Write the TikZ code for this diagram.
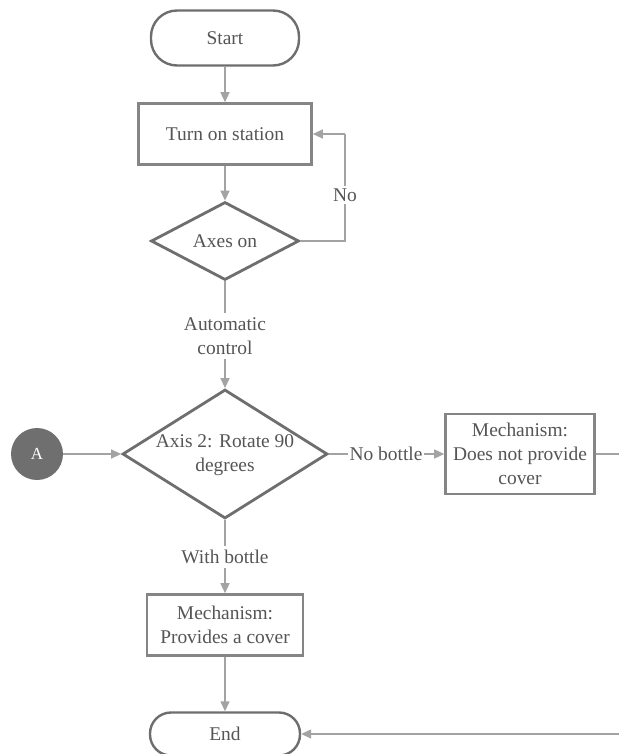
\documentclass[tikz,border=0pt]{standalone}
\usepackage{fontspec}
\setmainfont{Liberation Serif}
\newfontfamily\chartface{Liberation Serif}
\usetikzlibrary{shapes.geometric,arrows.meta}
\definecolor{txtgray}{HTML}{555555}
\definecolor{boxgray}{HTML}{858585}
\definecolor{diagray}{HTML}{6E6E6E}
\definecolor{linegray}{HTML}{A3A3A3}
\definecolor{dotgray}{HTML}{6F6F6F}
\tikzset{
  every node/.style={font=\chartface\fontsize{19.5}{24}\selectfont, text=txtgray, align=center},
  terminal/.style={draw=diagray, line width=2.4bp, minimum width=148bp, fill=white},
  procbox/.style={draw=boxgray, line width=2.6bp, inner sep=0pt, fill=white},
  decision/.style={diamond, draw=diagray, line width=2.8bp, inner sep=0pt, fill=white},
  connector/.style={circle, fill=dotgray, text=white, minimum size=52bp, inner sep=0pt, font=\chartface\fontsize{17}{19}\selectfont},
  flowlabel/.style={fill=white, inner sep=3bp},
  link/.style={draw=linegray, line width=1.4bp},
  flow/.style={link, -{Triangle[length=10bp,width=9bp]}, color=linegray},
}
\begin{document}
\begin{tikzpicture}[x=1bp, y=-1bp]
\useasboundingbox (0,0) rectangle (619,754);

% main column, all centred on x = 225
\node[terminal, rounded corners=26bp, minimum height=55bp] (start) at (225,38) {Start};
\node[procbox, minimum width=173bp, minimum height=61bp] (turnon) at (225,134) {Turn on station};
\node[decision, minimum width=148bp, minimum height=78bp] (axeson) at (225,241) {};
\node (axestext) at (axeson) {Axes on};
\node[inner sep=4bp] (auto) at (225,336) {Automatic\\control};
\node[decision, minimum width=205bp, minimum height=129bp] (rotate) at (225,454) {};
\node (rotatetext) at (225,455) {Axis 2: Rotate 90\\degrees};
\node[inner sep=4bp] (with) at (225,557) {With bottle};
\node[procbox, minimum width=156bp, minimum height=61bp] (cover) at (225,625) {Mechanism:\\Provides a cover};
\node[terminal, rounded corners=21bp, minimum height=43bp, minimum width=150bp] (endn) at (225,734) {End};

% side branch
\node[connector] (a) at (37,454) {A};
\node[inner sep=1bp] (nobottle) at (386,454) {No bottle};
\node[procbox, minimum width=149bp, minimum height=80bp] (nocover) at (520,454) {Mechanism:\\Does not provide\\cover};
\coordinate (outR) at (619,454);
\coordinate (inR) at (619,734);
\coordinate (loopT) at (345,134);
\coordinate (loopB) at (345,241);

% connectors
\draw[flow] (start) -- (turnon);
\draw[flow] (turnon) -- (axeson);
\draw[link] (axeson.east) -- (loopB) -- (loopT);
\draw[flow] (loopT) -- (turnon.east |- loopT);
\node[flowlabel] (no) at (345,195) {No};
\draw[link] (axeson.south) -- (auto.north);
\draw[flow] (auto.south) -- (rotate.north);
\draw[flow] (a) -- (rotate.west);
\draw[link] (rotate.east) -- (nobottle.west);
\draw[flow] (nobottle.east) -- (nocover.west);
\draw[link] (nocover.east) -- (outR);
\draw[link] (rotate.south) -- (with.north);
\draw[flow] (with.south) -- (cover.north);
\draw[flow] (cover) -- (endn);
\draw[flow] (inR) -- (endn.east |- inR);
\end{tikzpicture}
\end{document}
